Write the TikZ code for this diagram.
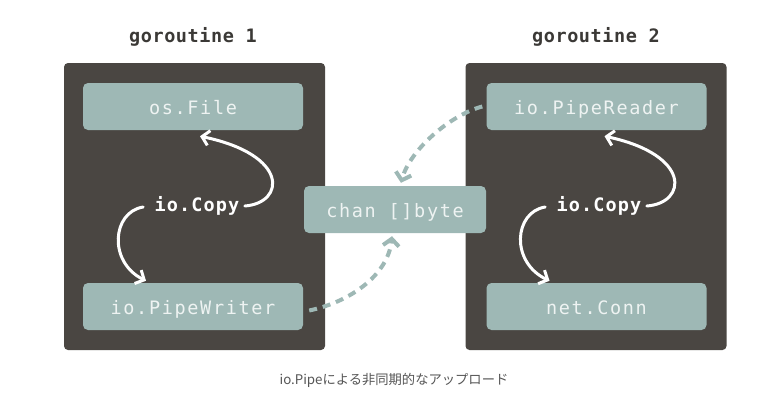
\documentclass[tikz,border=0pt]{standalone}
\usepackage{fontspec}
\usetikzlibrary{arrows.meta,calc}
\newfontfamily\boxmono[LetterSpace=9]{DejaVu Sans Mono}
\newfontfamily\titlemono[LetterSpace=3]{DejaVu Sans Mono}
\newfontfamily\copymono[LetterSpace=6]{DejaVu Sans Mono}
\newfontfamily\cjk{Noto Sans CJK JP}
\definecolor{panelc}{HTML}{4A4642}
\definecolor{boxc}{HTML}{9EB8B5}
\definecolor{boxtext}{HTML}{EEF3F2}
\definecolor{titlec}{HTML}{3B3936}
\definecolor{capc}{HTML}{555555}
\tikzset{
  panelbox/.style={fill=panelc, rounded corners=4pt, inner sep=0pt, minimum width=261pt, minimum height=287pt},
  itembox/.style={fill=boxc, rounded corners=5pt, inner sep=0pt, minimum width=220pt, minimum height=47pt, text height=16pt, text depth=0pt, text=boxtext, font=\boxmono\fontsize{18.5}{20}\selectfont},
  chanbox/.style={itembox, minimum width=182pt},
  titlelabel/.style={text=titlec, font=\titlemono\bfseries\fontsize{18.5}{20}\selectfont},
  copylabel/.style={text=white, text height=13.5pt, text depth=0pt, font=\copymono\bfseries\fontsize{18.5}{20}\selectfont},
  wa/.style={draw=white, line width=3pt, line cap=round, -{Straight Barb[length=7pt,width=15pt,line width=3pt]}},
  da/.style={draw=boxc, line width=4pt, dash pattern=on 8pt off 6pt, -{Straight Barb[length=7pt,width=16pt,line width=4pt]}},
  caplabel/.style={text=capc, font=\cjk\fontsize{13.3}{15}\selectfont}
}
\begin{document}
\begin{tikzpicture}[x=1pt,y=-1pt]
\useasboundingbox (0,0) rectangle (766,413);
% panels
\node[panelbox] (p1) at (194.5,206.5) {};
\node[panelbox] (p2) at (596,206.5) {};
% titles
\node[titlelabel] (g1) at (193,37) {goroutine 1};
\node[titlelabel] (g2) at (596,37) {goroutine 2};
% boxes
\node[itembox] (f1) at (193,106.5) {os.File};
\node[itembox] (w1) at (193,306.5) {io.PipeWriter};
\node[itembox] (r2) at (596.5,106.5) {io.PipeReader};
\node[itembox] (n2) at (596.5,306.5) {net.Conn};
\node[chanbox] (ch) at (395,209.5) {chan []byte};
% io.Copy labels
\node[copylabel] (c1) at (197,205) {io.Copy};
\node[copylabel] (c2) at (599,205) {io.Copy};
% white arrows left
\draw[wa] ($(c1.east)+(2,1)$) .. controls (285,203) and (290,155) .. ($(f1.south)+(7,6)$);
\draw[wa] ($(c1.west)+(-8,2)$) .. controls (112,212) and (108,262) .. ($(w1.north)+(-47,-2)$);
% white arrows right
\draw[wa] ($(c2.east)+(2,1)$) .. controls (687,203) and (692,155) .. ($(r2.south)+(8,6)$);
\draw[wa] ($(c2.west)+(-8,2)$) .. controls (514,212) and (510,262) .. ($(n2.north)+(-47,-2)$);
% dashed arrows
\draw[da] ($(w1.east)+(6,4)$) .. controls (350,302) and (388,275) .. ($(ch.south)+(-3,3)$);
\draw[da] ($(r2.west)+(-4,0)$) .. controls (450,115) and (410,150) .. ($(ch.north)+(6,-3)$);
% caption
\node[caplabel] (cap) at (394,380) {io.Pipeによる非同期的なアップロード};
\end{tikzpicture}
\end{document}
